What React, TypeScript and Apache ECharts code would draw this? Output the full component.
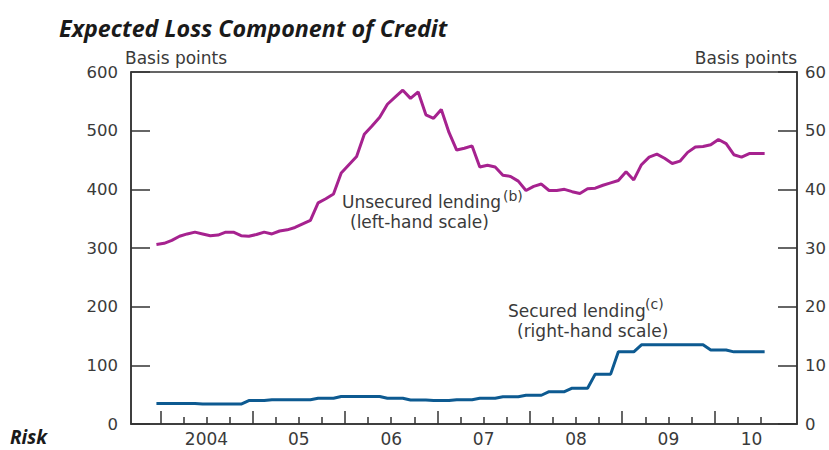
import React, { useEffect, useRef } from "react";
import * as echarts from "echarts";

// First observation: December 2003, monthly to July 2010
const startYear = 2003;
const startMonth = 12;

// Unsecured lending, basis points (left-hand scale)
const unsecured = [
  306, 308, 313, 320, 324, 327, 324, 321, 322, 327,
  327, 321, 320, 323, 327, 324, 329, 331, 335, 341,
  347, 377, 384, 392, 428, 442, 456, 494, 508, 523,
  545, 557, 569, 555, 566, 527, 521, 536, 497, 467,
  470, 474, 438, 441, 438, 424, 422, 414, 398, 405,
  409, 398, 398, 400, 396, 393, 401, 402, 407, 411,
  415, 430, 416, 442, 455, 460, 453, 444, 448, 463,
  472, 473, 476, 485, 478, 459, 455, 461, 461, 461,
];

// Secured lending, basis points (right-hand scale)
const secured = [
  3.5, 3.5, 3.5, 3.5, 3.5, 3.5, 3.4, 3.4, 3.4, 3.4,
  3.4, 3.4, 4.0, 4.0, 4.0, 4.15, 4.15, 4.15, 4.15, 4.15,
  4.15, 4.4, 4.4, 4.4, 4.7, 4.7, 4.7, 4.7, 4.7, 4.7,
  4.4, 4.4, 4.4, 4.1, 4.1, 4.1, 4.0, 4.0, 4.0, 4.15,
  4.15, 4.15, 4.4, 4.4, 4.4, 4.65, 4.65, 4.65, 4.9, 4.9,
  4.9, 5.5, 5.5, 5.5, 6.1, 6.1, 6.1, 8.5, 8.5, 8.5,
  12.3, 12.3, 12.3, 13.5, 13.5, 13.5, 13.5, 13.5, 13.5, 13.5,
  13.5, 13.5, 12.6, 12.6, 12.6, 12.3, 12.3, 12.3, 12.3, 12.3,
];

const yearTicks = [2004, 2005, 2006, 2007, 2008, 2009, 2010];
const quarterTicks = [
  2004.25, 2004.5, 2004.75, 2005.25, 2005.5, 2005.75, 2006.25, 2006.5, 2006.75,
  2007.25, 2007.5, 2007.75, 2008.25, 2008.5, 2008.75, 2009.25, 2009.5, 2009.75,
  2010.25, 2010.5,
];
const yearLabelPositions = [2004.5, 2005.5, 2006.5, 2007.5, 2008.5, 2009.5, 2010.4];
const yearLabels = ["2004", "05", "06", "07", "08", "09", "10"];

const xMin = 2003.683;
const xMax = 2010.892;

const monthX = (k: number) => startYear + (startMonth - 1 + k + 0.5) / 12;

const AXIS = "#333333";
const TEXT = "#3a3a3a";
const FONT = "DejaVu Sans";

export default function App() {
  const ref = useRef<HTMLDivElement>(null);

  useEffect(() => {
    if (!ref.current) return;
    const chart = echarts.init(ref.current, undefined, { renderer: "svg" });

    const unsecuredData = unsecured.map((v, k) => [monthX(k), v]);
    const securedData = secured.map((v, k) => [monthX(k), v]);

    const txt = (
      text: string,
      x: number,
      y: number,
      size: number,
      extra: any = {}
    ) => ({
      type: "text",
      x,
      y,
      silent: true,
      style: {
        text,
        fill: extra.fill || TEXT,
        fontFamily: extra.fontFamily || FONT,
        fontSize: size,
        fontStyle: extra.fontStyle || "normal",
        fontWeight: extra.fontWeight || "normal",
        lineHeight: extra.lineHeight || undefined,
        align: extra.align || "left",
        textAlign: extra.align || "left",
        verticalAlign: "middle",
        textVerticalAlign: "middle",
      },
    });

    chart.setOption({
      animation: false,
      backgroundColor: "#ffffff",
      grid: {
        left: 131,
        right: 32,
        top: 72,
        bottom: 26,
        show: true,
        borderColor: AXIS,
        borderWidth: 1.5,
        outerBoundsMode: "none",
      },
      xAxis: [
        {
          type: "value",
          position: "bottom",
          min: xMin,
          max: xMax,
          splitLine: { show: false },
          axisLine: { show: true, lineStyle: { color: AXIS, width: 1.5 } },
          axisTick: {
            show: true,
            inside: true,
            length: 13,
            customValues: yearTicks,
            lineStyle: { color: AXIS, width: 1.5 },
          },
          axisLabel: {
            show: true,
            customValues: yearLabelPositions,
            margin: 6,
            color: TEXT,
            fontFamily: FONT,
            fontSize: 17,
            formatter: (v: number) => {
              let best = 0;
              yearLabelPositions.forEach((p, i) => {
                if (Math.abs(p - v) < Math.abs(yearLabelPositions[best] - v)) best = i;
              });
              return yearLabels[best];
            },
          },
        },
        {
          type: "value",
          position: "bottom",
          min: xMin,
          max: xMax,
          splitLine: { show: false },
          axisLine: { show: false },
          axisLabel: { show: false },
          axisTick: {
            show: true,
            inside: true,
            length: 7,
            customValues: quarterTicks,
            lineStyle: { color: AXIS, width: 1.5 },
          },
        },
      ],
      yAxis: [
        {
          type: "value",
          position: "left",
          min: 0,
          max: 600,
          interval: 100,
          splitLine: { show: false },
          axisLine: { show: true, lineStyle: { color: AXIS, width: 1.5 } },
          axisTick: { show: true, inside: true, length: 19, lineStyle: { color: AXIS, width: 1.5 } },
          axisLabel: { margin: 13, color: TEXT, fontFamily: FONT, fontSize: 16.5 },
        },
        {
          type: "value",
          position: "right",
          min: 0,
          max: 60,
          interval: 10,
          splitLine: { show: false },
          axisLine: { show: true, lineStyle: { color: AXIS, width: 1.5 } },
          axisTick: { show: true, inside: true, length: 19, lineStyle: { color: AXIS, width: 1.5 } },
          axisLabel: { margin: 8, color: TEXT, fontFamily: FONT, fontSize: 16.5 },
        },
      ],
      series: [
        {
          name: "Unsecured lending",
          type: "line",
          xAxisIndex: 0,
          yAxisIndex: 0,
          data: unsecuredData,
          symbol: "none",
          lineStyle: { color: "#a6228f", width: 3 },
          z: 3,
        },
        {
          name: "Secured lending",
          type: "line",
          xAxisIndex: 0,
          yAxisIndex: 1,
          data: securedData,
          symbol: "none",
          lineStyle: { color: "#0d5a91", width: 3 },
          z: 3,
        },
      ],
      graphic: [
        txt("Expected Loss Component of Credit", 59, 28, 23.3, {
          fontFamily: "Open Sans",
          fontStyle: "italic",
          fontWeight: "bold",
          fill: "#1a1a1a",
        }),
        txt("Risk", 10, 437, 19, {
          fontFamily: "Open Sans",
          fontStyle: "italic",
          fontWeight: "bold",
          fill: "#1a1a1a",
          lineHeight: 19,
        }),
        txt("Basis points", 125, 58, 17),
        txt("Basis points", 797, 58, 17, { align: "right" }),
        txt("Unsecured lending", 342, 202, 17, { lineHeight: 17 }),
        txt("(b)", 503, 196, 14, { lineHeight: 14 }),
        txt("(left-hand scale)", 350, 222, 17, { lineHeight: 17 }),
        txt("Secured lending", 508, 311, 17, { lineHeight: 17 }),
        txt("(c)", 645, 304, 14, { lineHeight: 14 }),
        txt("(right-hand scale)", 517, 331, 17, { lineHeight: 17 }),
      ],
    });

    return () => chart.dispose();
  }, []);

  return (
    <div
      ref={ref}
      style={{ position: "absolute", left: 0, top: 0, width: 829, height: 450 }}
    />
  );
}
